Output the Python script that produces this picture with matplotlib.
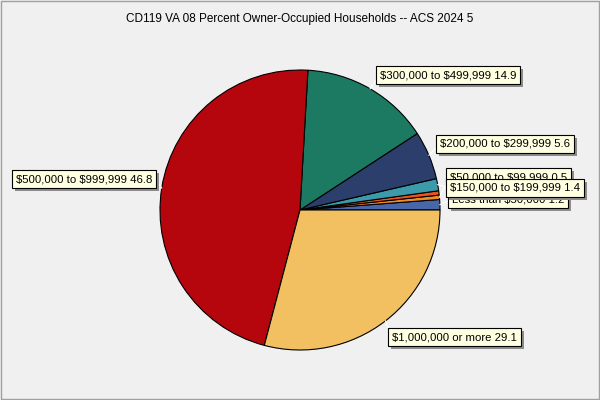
import matplotlib.pyplot as plt
import numpy as np

categories = ['Less than $50,000', '$50,000 to $99,999', '$100,000 to $149,999',
              '$150,000 to $199,999', '$200,000 to $299,999', '$300,000 to $499,999',
              '$500,000 to $999,999', '$1,000,000 or more']
values = [1.2, 0.5, 0.5, 1.4, 5.6, 14.9, 46.8, 29.1]
colors = ['#4867a8', '#f08b2c', '#e8531f', '#3c9bab', '#2b3e6c', '#1d7a62', '#b5060e', '#f2c061']
show_label = [True, True, False, True, True, True, True, True]

# label box anchor (left, center-y) in pixels, y down
label_pos = [(452, 199), (450, 177), None, (450, 188), (440, 144), (380, 75), (16, 179), (392, 337)]

plt.rcParams['font.family'] = ['Liberation Sans', 'DejaVu Sans']

fig = plt.figure(figsize=(6, 4), dpi=100)
fig.patch.set_facecolor('#f0f0f0')
ax = fig.add_axes([0, 0, 1, 1])

cx, cy, r = 300, 400 - 210, 140
wedges, _ = ax.pie(values, colors=colors, startangle=0, counterclock=True,
                   center=(cx, cy), radius=r, frame=True,
                   wedgeprops=dict(edgecolor='black', linewidth=0.8))
ax.set_xlim(0, 600)
ax.set_ylim(0, 400)
ax.set_aspect('equal')
ax.axis('off')

fig.text(0.5, 1 - 19 / 400, 'CD119 VA 08 Percent Owner-Occupied Households -- ACS 2024 5',
         ha='center', va='center', fontsize=8.5)

# leader lines + labels
cum = np.cumsum([0] + values[:-1])
order = [6, 7, 5, 4, 0, 1, 3]
labels = []
for k, i in enumerate(order):
    if not show_label[i]:
        continue
    mid = np.deg2rad((cum[i] + values[i] / 2) / sum(values) * 360)
    ex, ey = cx + r * np.cos(mid), cy + r * np.sin(mid)
    lx, ly = label_pos[i]
    ly = 400 - ly
    tx = lx if lx > cx else lx + 140
    ax.plot([ex, tx], [ey, ly], color='white', lw=0.8, zorder=3)
    txt = f'{categories[i]} {values[i]}'
    t = ax.text(lx, ly, txt, fontsize=8.2, va='center', ha='left', color='black',
                parse_math=False, zorder=5 + 2 * k,
                bbox=dict(boxstyle='square,pad=0.35', fc='#ffffe1', ec='black', lw=0.8))
    labels.append(t)

# drop shadows behind each label box
fig.canvas.draw()
for t in labels:
    bb = t.get_bbox_patch().get_window_extent()
    x0, y0 = ax.transData.inverted().transform((bb.x0, bb.y0))
    x1, y1 = ax.transData.inverted().transform((bb.x1, bb.y1))
    ax.add_patch(plt.Rectangle((x0 + 3, y0 - 3), x1 - x0, y1 - y0, fc='#8c8c8c', ec='none',
                               zorder=t.get_zorder() - 1))

fig.patches.append(plt.Rectangle((0.001, 0.002), 0.997, 0.996, transform=fig.transFigure,
                                 fill=False, edgecolor='#a0a0a0', lw=1))

fig.savefig('out.png', dpi=100, facecolor=fig.get_facecolor())
